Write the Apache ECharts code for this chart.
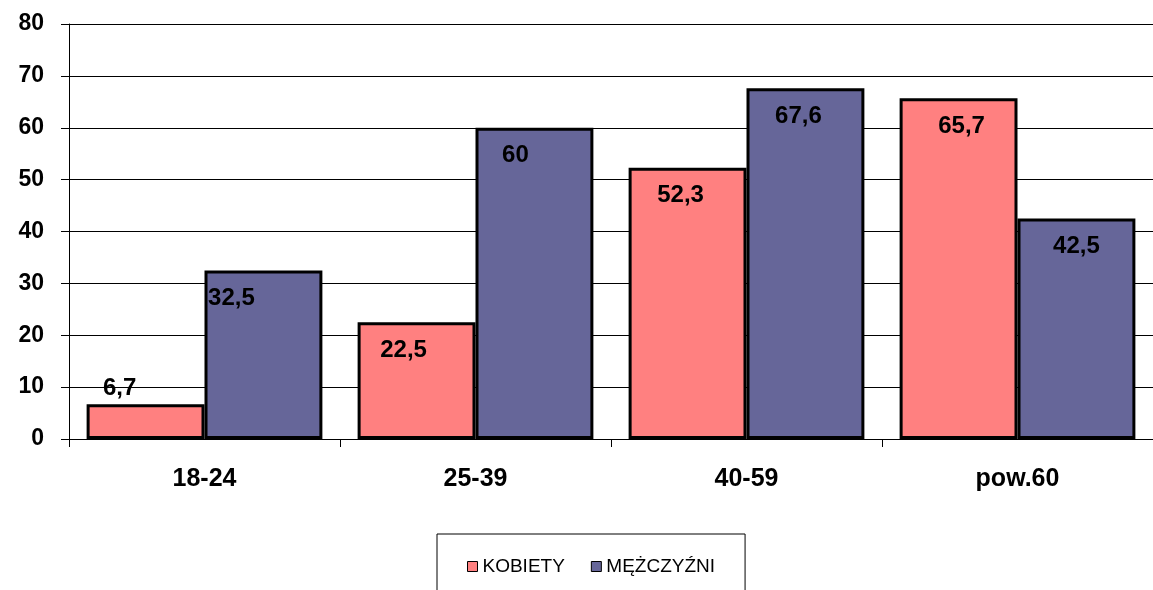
<!DOCTYPE html>
<html>
<head>
<meta charset="utf-8">
<script src="https://cdn.jsdelivr.net/npm/echarts@6/dist/echarts.min.js"></script>
<style>
  html, body { margin: 0; padding: 0; background: #fff; }
  #chart { width: 1153px; height: 590px; }
</style>
</head>
<body>
<div id="chart"></div>
<script>
// Age groups and shares per group
const categories = ['18-24', '25-39', '40-59', 'pow.60'];
const kobiety = [6.7, 22.5, 52.3, 65.7];
const mezczyzni = [32.5, 60, 67.6, 42.5];
const seriesNames = ['KOBIETY', 'MĘŻCZYŹNI'];

const FONT = '"Liberation Sans", Arial, sans-serif';

// Horizontal nudges of the value labels, per series and category (px)
const labelNudge = [
  [-26, -13, -7, 3],
  [-32, -19, -7, 0]
];

function fmt(v) { return String(v).replace('.', ','); }

// Very short bars get their label placed above the bar instead of inside
function toItems(values, s) {
  return values.map((v, i) => {
    const label = { offset: [labelNudge[s][i], 0] };
    if (v < 10) { label.position = 'top'; label.distance = 4; }
    return { value: v, label };
  });
}

const labelStyle = {
  show: true,
  position: 'insideTop',
  distance: 16,
  formatter: p => fmt(p.value),
  fontFamily: FONT,
  fontWeight: 'bold',
  fontSize: 24,
  color: '#000'
};

const chart = echarts.init(document.getElementById('chart'), null, { renderer: 'canvas' });
chart.setOption({
  animation: false,
  backgroundColor: '#fff',
  grid: { left: 69, right: -3, top: 24, bottom: 151, containLabel: false },
  legend: {
    data: seriesNames,
    top: 534,
    left: 437,
    orient: 'horizontal',
    backgroundColor: '#fff',
    borderColor: '#000',
    borderWidth: 1,
    padding: [23, 30, 40, 30],
    itemGap: 26,
    itemWidth: 10,
    itemHeight: 10,
    icon: 'rect',
    itemStyle: { borderColor: '#000', borderWidth: 1 },
    textStyle: { fontFamily: FONT, fontSize: 19, color: '#000' }
  },
  xAxis: {
    type: 'category',
    data: categories,
    axisLine: { lineStyle: { color: '#000', width: 1 } },
    axisTick: { show: true, length: 8, lineStyle: { color: '#000' } },
    axisLabel: { fontFamily: FONT, fontWeight: 'bold', fontSize: 25, color: '#000', margin: 28 }
  },
  yAxis: {
    type: 'value',
    min: 0,
    max: 80,
    interval: 10,
    axisLine: { show: true, lineStyle: { color: '#000', width: 1 } },
    axisTick: { show: true, length: 8, lineStyle: { color: '#000' } },
    axisLabel: { fontFamily: FONT, fontWeight: 'bold', fontSize: 23, color: '#000', margin: 25 },
    splitLine: { show: true, lineStyle: { color: '#000', width: 1 } }
  },
  series: [
    {
      name: seriesNames[0],
      type: 'bar',
      data: toItems(kobiety, 0),
      barGap: '0%',
      barCategoryGap: '13%',
      itemStyle: { color: '#FF8080', borderColor: '#000', borderWidth: 3 },
      label: labelStyle
    },
    {
      name: seriesNames[1],
      type: 'bar',
      data: toItems(mezczyzni, 1),
      barGap: '0%',
      barCategoryGap: '13%',
      itemStyle: { color: '#666699', borderColor: '#000', borderWidth: 3 },
      label: labelStyle
    }
  ]
});
</script>
</body>
</html>
